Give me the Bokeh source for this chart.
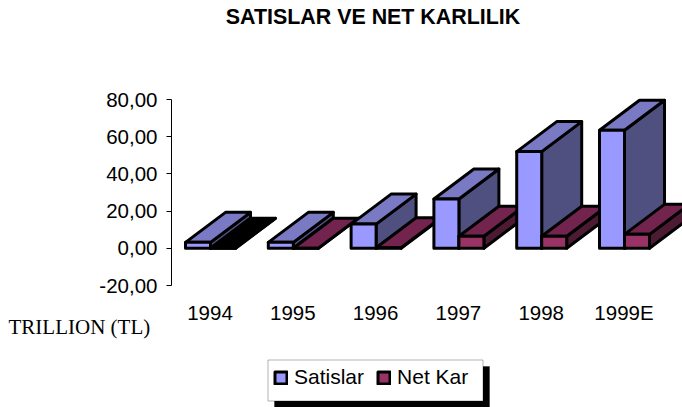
from bokeh.embed import file_html
from bokeh.resources import INLINE
from bokeh.plotting import figure
from bokeh.models import Range1d, FixedTicker, Label, Legend, LegendItem, BoxAnnotation

years = ["1994", "1995", "1996", "1997", "1998", "1999E"]
satislar = [3.2, 3.2, 13, 26.5, 52, 63.5]
net_kar = [0, 0, 0.3, 6.5, 6.5, 7.5]
y_ticks = [-20, 0, 20, 40, 60, 80]
y_labels = ["-20,00", "0,00", "20,00", "40,00", "60,00", "80,00"]

WIDTH, HEIGHT = 682, 407
PX_X = 82.8
PX_Y = 1.86
AXIS_X, TOP_80 = 171, 99
CENTER_0 = 209.5


def dx(px): return (px - CENTER_0) / PX_X
def dy(py): return 80 - (py - TOP_80) / PX_Y


W = 25 / PX_X
DEPTH_X = 40 / PX_X
DEPTH_Y = 30 / PX_Y
BAR_SHIFT = 0.5 / PX_X

p = figure(width=WIDTH, height=HEIGHT, output_backend="svg", toolbar_location=None,
           x_range=Range1d(dx(0), dx(WIDTH)), y_range=Range1d(dy(HEIGHT), dy(0)),
           min_border=0, background_fill_color=None, border_fill_color="white",
           outline_line_color=None)
p.xgrid.visible = False
p.ygrid.visible = False

FONT = "Liberation Sans"
p.yaxis.fixed_location = dx(AXIS_X)
p.yaxis.bounds = (-20, 80)
p.yaxis.ticker = FixedTicker(ticks=y_ticks)
p.yaxis.major_label_overrides = dict(zip(y_ticks, y_labels))
p.yaxis.major_label_text_font = FONT
p.yaxis.major_label_text_font_size = "20.5px"
p.yaxis.major_label_text_color = "black"
p.yaxis.major_tick_in = 0
p.yaxis.major_tick_out = 5
p.yaxis.minor_tick_line_color = None
p.yaxis.axis_line_color = "black"
p.yaxis.major_label_standoff = 9

p.xaxis.fixed_location = dy(285.5)
p.xaxis.ticker = FixedTicker(ticks=list(range(len(years))))
p.xaxis.major_label_overrides = dict(enumerate(years))
p.xaxis.major_label_text_font = FONT
p.xaxis.major_label_text_font_size = "20.5px"
p.xaxis.major_label_text_color = "black"
p.xaxis.major_tick_line_color = None
p.xaxis.minor_tick_line_color = None
p.xaxis.axis_line_color = None
p.xaxis.major_label_standoff = 9


def box(left, value, colors):
    right = left + W
    front, top, side = colors
    style = dict(line_color="black", line_width=3, line_join="round")
    p.patch([right, right + DEPTH_X, right + DEPTH_X, right],
            [0, DEPTH_Y, value + DEPTH_Y, value], fill_color=side, **style)
    p.patch([left, right, right + DEPTH_X, left + DEPTH_X],
            [value, value, value + DEPTH_Y, value + DEPTH_Y], fill_color=top, **style)
    return p.patch([left, right, right, left], [0, 0, value, value], fill_color=front, **style)


SAT = ("#9999ff", "#7a7ac4", "#4f4f80")
NET = ("#993366", "#72244e", "#4d1a33")
BLACK = ("#000000", "#000000", "#000000")
sat_r = net_r = None
for i in range(len(years)):
    c = i + BAR_SHIFT
    sat_r = box(c - W, satislar[i], SAT)
    net_r = box(c, net_kar[i], BLACK if i == 0 else NET)

p.add_layout(Label(x=dx(372.5), y=dy(16), text="SATISLAR VE NET KARLILIK", text_align="center",
                   text_baseline="alphabetic", text_font=FONT, text_font_style="bold",
                   text_font_size="21.4px", text_color="black"))
p.add_layout(Label(x=dx(8), y=dy(326.5), text="TRILLION (TL)", text_font="Liberation Serif",
                   text_baseline="alphabetic", text_font_size="21px", text_color="black"))

p.add_layout(BoxAnnotation(left=dx(274), right=dx(489), top=dy(366), bottom=dy(407),
                           fill_color="black", fill_alpha=1, line_color="black", level="annotation"))
p.add_layout(BoxAnnotation(left=dx(267.5), right=dx(482.5), top=dy(359.5), bottom=dy(400.5),
                           fill_color="white", fill_alpha=1, line_color="black", line_width=1,
                           level="annotation"))
legend = Legend(items=[LegendItem(label="Satislar", renderers=[sat_r]),
                       LegendItem(label="Net Kar", renderers=[net_r])],
                orientation="horizontal", location=(273, 18),
                label_text_font=FONT, label_text_font_size="21px", label_text_color="black",
                glyph_width=15, glyph_height=15, spacing=12, padding=0, margin=0,
                label_standoff=6, label_height=24, border_line_color=None,
                background_fill_alpha=0)
p.add_layout(legend, "center")

open("out.html", "w").write(file_html(p, INLINE))
